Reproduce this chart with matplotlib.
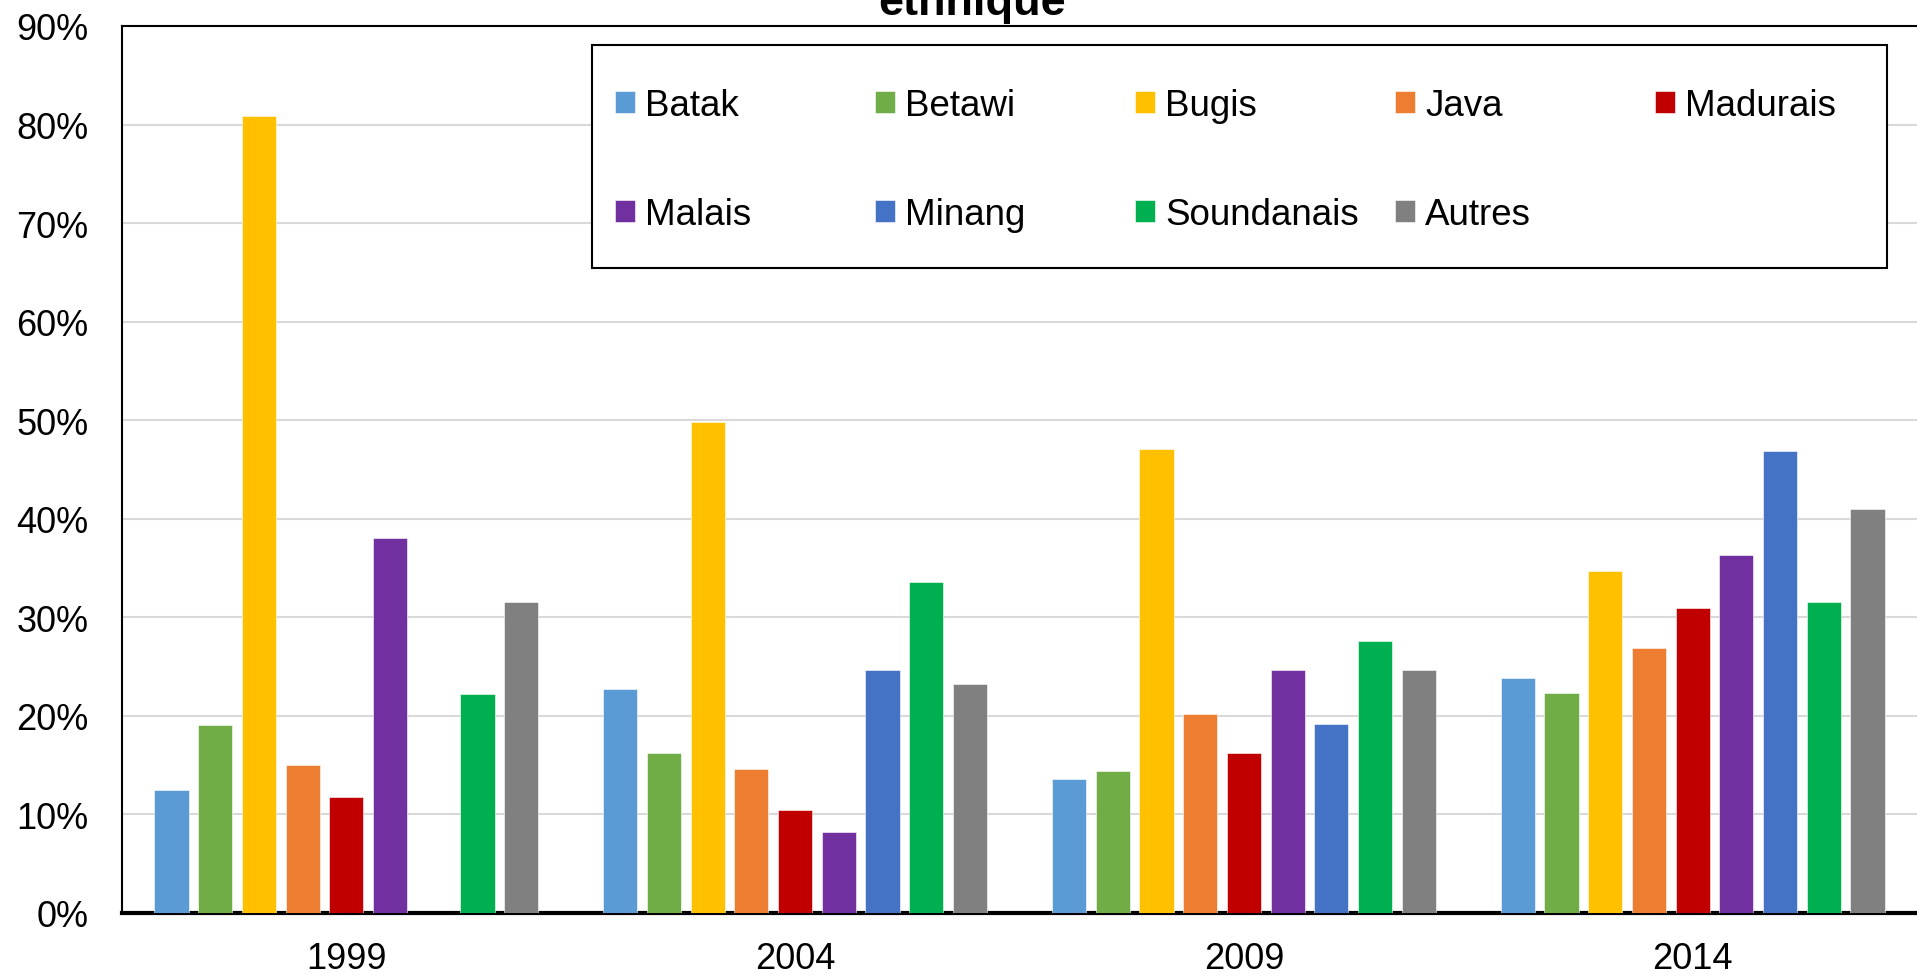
import numpy as np
import matplotlib
matplotlib.use('Agg')
import matplotlib.pyplot as plt
from matplotlib.patches import Rectangle
from matplotlib.ticker import FuncFormatter

plt.rcParams['font.family'] = ['Liberation Sans', 'DejaVu Sans']

years = ['1999', '2004', '2009', '2014']
groups = ['Batak', 'Betawi', 'Bugis', 'Java', 'Madurais',
          'Malais', 'Minang', 'Soundanais', 'Autres']
colors = ['#5B9BD5', '#70AD47', '#FFC000', '#ED7D31', '#C00000',
          '#7030A0', '#4472C4', '#00B050', '#808080']

# values in %, one list per ethnic group (1999, 2004, 2009, 2014)
batak = [12.5, 22.7, 13.6, 23.8]
betawi = [19.1, 16.2, 14.4, 22.3]
bugis = [80.9, 49.8, 47.1, 34.7]
java = [15.0, 14.6, 20.2, 26.9]
madurais = [11.8, 10.5, 16.2, 30.9]
malais = [38.1, 8.2, 24.7, 36.3]
minang = [np.nan, 24.7, 19.2, 46.9]
soundanais = [22.2, 33.6, 27.6, 31.6]
autres = [31.6, 23.2, 24.7, 41.0]
series = [batak, betawi, bugis, java, madurais, malais, minang, soundanais, autres]

W, H = 1917, 978
fig = plt.figure(figsize=(W / 100, H / 100), dpi=100)
ax = fig.add_axes([122 / W, 1 - 914 / H, (W - 122) / W, (914 - 27) / H])

x = np.arange(len(years))
stride = 0.0974
bw = 0.076
handles = []
for j, (vals, c) in enumerate(zip(series, colors)):
    b = ax.bar(x + (j - 4) * stride, vals, bw, color=c, edgecolor='white',
               linewidth=0.4, zorder=3, label=groups[j])
    handles.append(b)

ax.set_xlim(-0.5, 3.5)
ax.set_ylim(0, 90)
ax.set_yticks(np.arange(0, 91, 10))
ax.yaxis.set_major_formatter(FuncFormatter(lambda v, p: '%d%%' % v))
ax.set_xticks(x)
ax.set_xticklabels(years)
ax.tick_params(axis='both', length=0, labelsize=26)
ax.tick_params(axis='y', pad=24)
ax.tick_params(axis='x', pad=20)
ax.grid(axis='y', color='#D9D9D9', linewidth=1.5, zorder=0)

for s in ['left', 'top']:
    ax.spines[s].set_color('black')
    ax.spines[s].set_linewidth(1.5)
ax.spines['bottom'].set_linewidth(3)
ax.spines['right'].set_visible(False)

fig.text(972 / W, 1 - 15 / H, 'ethnique', ha='center', va='baseline',
         fontsize=32.5, fontweight='bold')

# legend frame, then one legend per column so the columns are evenly spaced
fig.patches.append(Rectangle((592 / W, 1 - 269 / H), (1887 - 592) / W, (269 - 46) / H,
                             transform=fig.transFigure, facecolor='white',
                             edgecolor='black', linewidth=1.5, zorder=5))
for k in range(5):
    idx = [i for i in (k, k + 5) if i < len(groups)]
    leg = fig.legend([handles[i] for i in idx], [groups[i] for i in idx],
                     loc='upper left', bbox_to_anchor=((615 + 260 * k) / W, 1 - 89 / H),
                     ncol=1, frameon=False, fontsize=26.5, borderpad=0,
                     labelspacing=2.0, handlelength=0.55, handleheight=0.55,
                     handletextpad=0.27, borderaxespad=0)
    leg.set_zorder(6)

fig.savefig('out.png', dpi=100)
